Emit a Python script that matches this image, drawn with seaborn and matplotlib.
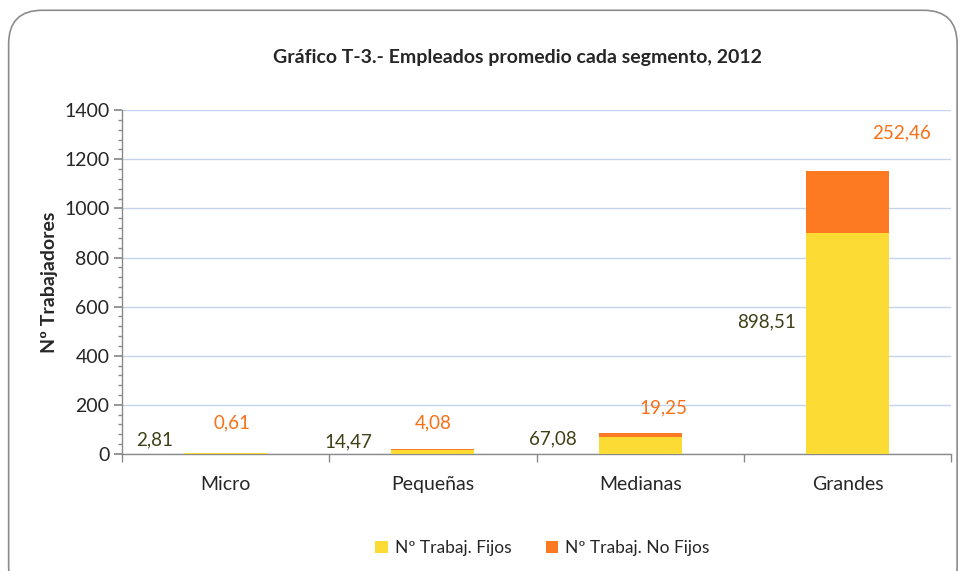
import matplotlib
matplotlib.use("Agg")
import matplotlib.pyplot as plt
import seaborn as sns
import pandas as pd
import numpy as np
from matplotlib.patches import FancyBboxPatch, Patch
from matplotlib.ticker import MultipleLocator

categories = ["Micro", "Pequeñas", "Medianas", "Grandes"]
fijos = [2.81, 14.47, 67.08, 898.51]
no_fijos = [0.61, 4.08, 19.25, 252.46]
fijos_labels = ["2,81", "14,47", "67,08", "898,51"]
no_fijos_labels = ["0,61", "4,08", "19,25", "252,46"]
yticks = [0, 200, 400, 600, 800, 1000, 1200, 1400]

sns.set_theme(style="white")
plt.rcParams['font.family'] = ['Lato', 'DejaVu Sans']

YELLOW = "#FCDB35"
ORANGE = "#FD7922"
LBL_DARK = "#3F3F18"
LBL_ORANGE = "#FB6F17"

df = pd.DataFrame({"cat": categories, "fijos": fijos, "no_fijos": no_fijos})
df["total"] = df["fijos"] + df["no_fijos"]

fig = plt.figure(figsize=(9.6, 5.71), dpi=100)
ax = fig.add_axes([0.127, 0.205, 0.864, 0.602])

# border
border = FancyBboxPatch((0.009, -0.05), 0.988, 1.032, boxstyle="round,pad=0,rounding_size=0.035",
                        transform=fig.transFigure, facecolor="none", edgecolor="#8c8c8c", linewidth=1.2,
                        mutation_aspect=960/571)
fig.patches.append(border)

sns.barplot(data=df, x="cat", y="total", color=ORANGE, saturation=1, width=0.4, ax=ax, zorder=3,
            linewidth=0, edgecolor="none")
sns.barplot(data=df, x="cat", y="fijos", color=YELLOW, saturation=1, width=0.4, ax=ax, zorder=4,
            linewidth=0, edgecolor="none")

ax.set_ylim(0, 1400)
ax.set_xlim(-0.5, 3.5)
ax.set_yticks(yticks)
ax.yaxis.set_minor_locator(MultipleLocator(40))
ax.grid(axis="y", which="major", color="#C5D3EC", linewidth=1.0, zorder=0)
ax.set_axisbelow(True)
for s in ["top", "right"]:
    ax.spines[s].set_visible(False)
for s in ["left", "bottom"]:
    ax.spines[s].set_color("#8a8a8a")
    ax.spines[s].set_linewidth(1.0)

ax.tick_params(axis="y", which="major", left=True, length=6, color="#8a8a8a", labelsize=14, pad=3)
ax.tick_params(axis="y", which="minor", left=True, length=3, color="#8a8a8a")
ax.set_xticks(range(len(categories)))
ax.set_xticklabels(categories)
ax.tick_params(axis="x", which="major", bottom=False, labelsize=14, pad=10)
ax.set_xticks([-0.5, 0.5, 1.5, 2.5, 3.5], minor=True)
ax.tick_params(axis="x", which="minor", bottom=True, length=6, color="#8a8a8a")
ax.set_xlabel("")
ax.set_ylabel("Nº Trabajadores", fontsize=14, fontweight="bold", labelpad=4)

# data labels
fx_off = [-0.34, -0.41, -0.42, -0.39]
fy = [57, 49, 61, 537]
nx_off = [0.03, 0.0, 0.11, 0.26]
ny = [126, 126, 187, 1306]
for i in range(len(categories)):
    ax.text(i + fx_off[i], fy[i], fijos_labels[i], ha="center", va="center", fontsize=13.5, color=LBL_DARK, zorder=6)
    ax.text(i + nx_off[i], ny[i], no_fijos_labels[i], ha="center", va="center", fontsize=13.5, color=LBL_ORANGE, zorder=6)

fig.text(0.539, 0.9, "Gráfico T-3.- Empleados promedio cada segmento, 2012", ha="center", va="center",
         fontsize=14, fontweight="bold")

handles = [Patch(facecolor=YELLOW, edgecolor="none"), Patch(facecolor=ORANGE, edgecolor="none")]
fig.legend(handles, ["Nº Trabaj. Fijos", "Nº Trabaj. No Fijos"], loc="center", bbox_to_anchor=(0.565, 0.04),
           ncol=2, frameon=False, fontsize=12.5, handlelength=0.7, handleheight=0.7, handletextpad=0.4,
           columnspacing=2.0)

fig.savefig("out.png", dpi=100)
